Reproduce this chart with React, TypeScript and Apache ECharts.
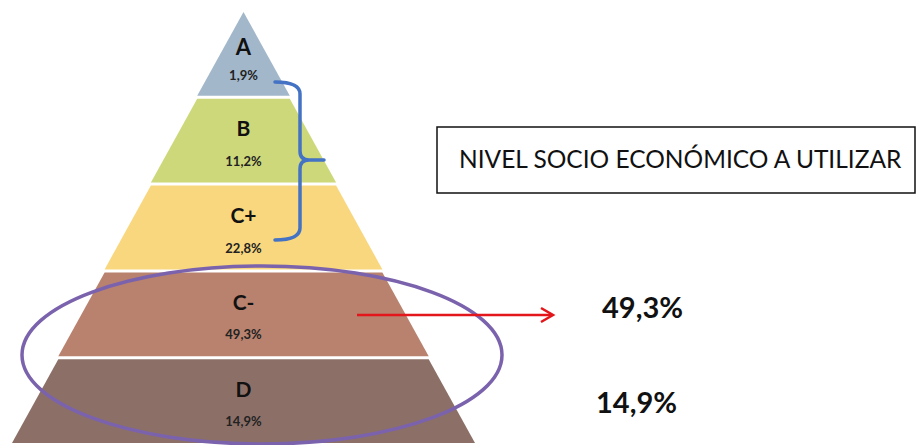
import React, { useEffect, useRef } from "react";
import * as echarts from "echarts";

// ---- data ----
const levels = ["A", "B", "C+", "C-", "D"];
const shares = [1.9, 11.2, 22.8, 49.3, 14.9];
// pyramid tier rank (drives the width of each tier so the stack forms a triangle)
const tierRank = [1, 2, 3, 4, 5];
const tierColors = ["#a3b7cb", "#cdd87a", "#f8d77e", "#b8826f", "#8c7068"];
const boxTitle = "NIVEL SOCIO ECONÓMICO A UTILIZAR";
const highlighted = ["C-", "D"];

const fmt = (v: number) => v.toFixed(1).replace(".", ",") + "%";

const BRACE =
  "M275,82 Q300,82 300,94 L300,151 Q300,160 309,160 L324,160 M309,160 Q300,160 300,169 L300,228 Q300,240 275,240";

let braceRegistered = false;

export default function App() {
  const ref = useRef<HTMLDivElement>(null);

  useEffect(() => {
    if (!ref.current) return;
    if (!braceRegistered) {
      echarts.graphic.registerShape("brace", echarts.graphic.extendPath(BRACE, {}) as any);
      braceRegistered = true;
    }
    const chart = echarts.init(ref.current, undefined, { renderer: "svg" });

    const data = levels.map((name, i) => {
      const item: any = {
        name,
        value: tierRank[i],
        itemStyle: { color: tierColors[i] },
      };
      if (i === 0) {
        item.label = {
          padding: [10, 0, 0, 0],
          rich: {
            n: { fontSize: 22, fontWeight: "bold", color: "#111", lineHeight: 32, fontFamily: "Lato" },
            p: { fontSize: 13, fontWeight: "bold", color: "#222", lineHeight: 24, fontFamily: "Lato" },
          },
        };
      }
      return item;
    });

    const hlGraphics = highlighted.map((lv, k) => {
      const idx = levels.indexOf(lv);
      return {
        type: "text",
        left: k === 0 ? 602 : 596,
        top: k === 0 ? 292 : 387,
        z: 20,
        style: {
          text: fmt(shares[idx]),
          font: "bold 29px Lato",
          fill: "#111",
        },
      };
    });

    chart.setOption({
      animation: false,
      backgroundColor: "#ffffff",
      series: [
        {
          type: "funnel",
          left: 12,
          top: 12,
          width: 463,
          height: 431,
          min: 0,
          max: 5,
          minSize: "0%",
          maxSize: "100%",
          sort: "ascending",
          gap: 3,
          funnelAlign: "center",
          itemStyle: { borderWidth: 0 },
          labelLine: { show: false },
          label: {
            show: true,
            position: "inside",
            formatter: (p: any) => `{n|${p.name}}\n{p|${fmt(shares[p.dataIndex])}}`,
            rich: {
              n: { fontSize: 21, fontWeight: "bold", color: "#111", lineHeight: 40, fontFamily: "Lato" },
              p: { fontSize: 13, fontWeight: "bold", color: "#222", lineHeight: 26, fontFamily: "Lato" },
            },
          },
          emphasis: { disabled: true },
          data,
        },
      ],
      graphic: [
        {
          type: "rect",
          z: 10,
          shape: { x: 437, y: 127, width: 478, height: 66 },
          style: { fill: "#fff", stroke: "#111", lineWidth: 1.5 },
        },
        {
          type: "text",
          z: 11,
          left: 459,
          top: 146,
          style: { text: boxTitle, font: "24.5px Lato", fill: "#111" },
        },
        {
          type: "brace",
          z: 12,
          x: 0,
          y: 0,
          scaleX: 1,
          scaleY: 1,
          style: { fill: "none", stroke: "#4472c4", lineWidth: 3.5, lineCap: "round" },
        },
        {
          type: "ellipse",
          z: 12,
          shape: { cx: 262, cy: 355, rx: 240, ry: 89 },
          style: { fill: "none", stroke: "#7b62ad", lineWidth: 3.5 },
        },
        {
          type: "line",
          z: 13,
          shape: { x1: 357, y1: 315, x2: 552, y2: 315 },
          style: { stroke: "#e2161b", lineWidth: 2.5 },
        },
        {
          type: "polyline",
          z: 13,
          shape: { points: [[541, 308], [553, 315], [541, 322]] },
          style: { stroke: "#e2161b", lineWidth: 2.5, fill: "none" },
        },
        ...hlGraphics,
      ],
    });
    return () => chart.dispose();
  }, []);

  return (
    <div
      ref={ref}
      style={{ position: "fixed", left: 0, top: 0, width: 918, height: 445, background: "#fff" }}
    />
  );
}
